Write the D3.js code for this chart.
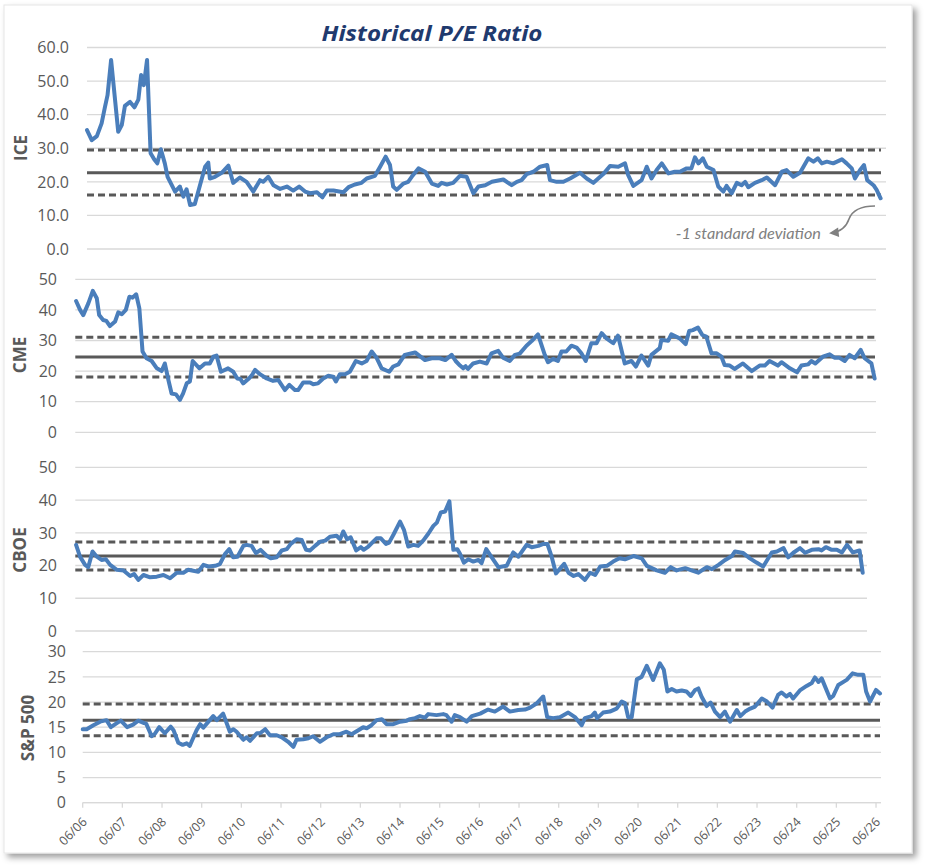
<!DOCTYPE html>
<html>
<head>
<meta charset="utf-8">
<script src="https://cdn.jsdelivr.net/npm/d3@7"></script>
<style>
  body { margin: 0; background: #fff; }
  svg { display: block; }
</style>
</head>
<body>
<div id="chart"></div>
<script>
// x values are years since June 2006 (06/06), y values are P/E ratios

const icePoints = [[0,35.4],[0.12,32.4],[0.25,33.6],[0.37,37.4],[0.45,42.0],[0.52,45.8],[0.61,56.3],[0.79,34.9],[0.88,36.9],[0.96,42.6],[1.09,43.8],[1.2,42.2],[1.3,44.5],[1.37,51.8],[1.44,48.8],[1.52,56.3],[1.61,28.5],[1.7,26.7],[1.78,25.5],[1.87,29.7],[1.97,25.5],[2.04,21.5],[2.23,17.1],[2.35,18.6],[2.44,15.6],[2.52,17.8],[2.61,13.1],[2.73,13.4],[2.86,19.0],[2.99,24.5],[3.07,25.7],[3.11,21.0],[3.24,21.5],[3.41,22.7],[3.58,24.8],[3.7,19.7],[3.87,21.3],[4.04,20.0],[4.21,17.1],[4.38,20.5],[4.46,20.0],[4.59,21.5],[4.72,19.0],[4.89,17.9],[5.06,18.6],[5.22,17.4],[5.37,18.6],[5.52,17.1],[5.65,16.6],[5.82,16.9],[5.96,15.4],[6.07,17.4],[6.24,17.4],[6.49,16.9],[6.62,18.4],[6.78,19.2],[6.95,19.7],[7.08,21.0],[7.29,21.8],[7.42,24.5],[7.56,27.5],[7.67,25.0],[7.75,18.6],[7.84,17.6],[8.01,19.5],[8.13,20.0],[8.22,21.5],[8.39,24.0],[8.56,23.0],[8.73,19.5],[8.89,18.8],[8.98,19.7],[9.11,19.2],[9.27,19.7],[9.44,21.8],[9.61,21.5],[9.78,16.6],[9.91,18.6],[10.08,19.0],[10.25,20.0],[10.54,20.7],[10.75,19.0],[10.88,20.0],[11.0,20.5],[11.13,22.3],[11.3,23.0],[11.47,24.5],[11.65,25.0],[11.72,20.5],[11.89,20.0],[12.06,20.0],[12.23,21.0],[12.48,22.7],[12.65,21.0],[12.82,19.7],[13.07,22.3],[13.24,24.7],[13.45,24.5],[13.62,25.5],[13.7,22.0],[13.83,18.8],[14.04,20.5],[14.17,24.5],[14.29,21.0],[14.42,23.5],[14.55,25.5],[14.72,22.5],[14.88,23.0],[15.01,23.0],[15.18,24.0],[15.3,24.0],[15.39,27.3],[15.48,25.5],[15.59,27.0],[15.69,24.5],[15.86,23.5],[15.98,18.6],[16.11,17.1],[16.19,18.8],[16.32,16.6],[16.45,19.7],[16.57,19.0],[16.66,20.0],[16.74,18.4],[16.91,19.7],[17.08,20.5],[17.21,21.3],[17.42,19.0],[17.59,23.0],[17.71,23.5],[17.88,21.5],[18.05,22.7],[18.26,27.0],[18.39,26.0],[18.5,27.0],[18.6,25.5],[18.73,26.0],[18.89,25.5],[19.11,26.7],[19.23,25.5],[19.36,24.0],[19.44,21.0],[19.57,23.5],[19.67,25.0],[19.75,20.5],[19.91,19.0],[19.99,17.6],[20.09,15.1]];

const cmePoints = [[0.02,42.9],[0.12,40.0],[0.2,38.3],[0.33,42.2],[0.44,46.2],[0.54,43.8],[0.6,38.3],[0.7,36.7],[0.78,36.4],[0.87,34.7],[1.0,36.2],[1.08,39.2],[1.17,38.6],[1.27,40.0],[1.36,44.3],[1.44,44.0],[1.53,45.1],[1.61,40.5],[1.69,26.4],[1.79,24.2],[1.92,23.3],[2.05,20.9],[2.17,20.0],[2.25,22.5],[2.34,17.1],[2.42,12.7],[2.53,12.4],[2.63,10.6],[2.71,12.7],[2.8,16.0],[2.88,16.6],[2.95,23.3],[3.12,20.9],[3.26,22.5],[3.38,22.5],[3.47,24.7],[3.55,25.1],[3.66,19.8],[3.84,20.9],[3.97,19.8],[4.07,17.6],[4.15,17.4],[4.22,16.0],[4.35,17.4],[4.43,18.5],[4.52,20.4],[4.64,19.0],[4.81,17.6],[4.97,16.8],[5.1,17.1],[5.27,13.8],[5.38,15.5],[5.52,13.8],[5.6,13.8],[5.73,16.3],[5.9,16.3],[5.98,15.7],[6.1,16.0],[6.23,17.6],[6.36,18.5],[6.48,18.2],[6.55,16.6],[6.65,19.0],[6.78,19.0],[6.9,19.8],[7.05,23.3],[7.2,22.5],[7.32,23.3],[7.45,26.4],[7.57,24.4],[7.7,20.9],[7.89,19.8],[7.99,21.5],[8.12,22.2],[8.28,25.3],[8.54,26.1],[8.79,23.6],[8.96,24.2],[9.16,24.2],[9.3,23.6],[9.46,25.3],[9.56,23.3],[9.67,21.8],[9.75,20.9],[9.81,21.6],[9.87,20.7],[10.0,22.5],[10.17,23.1],[10.34,22.5],[10.46,25.8],[10.63,26.6],[10.75,24.4],[10.92,23.3],[11.05,25.3],[11.17,25.7],[11.34,28.3],[11.47,29.8],[11.63,32.0],[11.8,25.3],[11.88,22.9],[12.01,24.0],[12.13,23.3],[12.22,26.4],[12.34,26.4],[12.47,28.3],[12.6,27.7],[12.72,25.8],[12.83,23.3],[12.97,29.1],[13.1,29.1],[13.23,32.4],[13.35,30.7],[13.52,29.1],[13.64,31.6],[13.81,22.5],[13.98,23.3],[14.09,21.5],[14.23,25.1],[14.4,21.8],[14.48,25.3],[14.69,27.5],[14.73,30.2],[14.9,29.9],[14.98,32.0],[15.19,30.7],[15.34,28.8],[15.43,33.1],[15.52,33.4],[15.65,34.2],[15.76,31.8],[15.86,31.3],[15.99,25.8],[16.12,25.8],[16.24,24.7],[16.32,22.0],[16.45,21.8],[16.57,20.7],[16.78,22.5],[17.0,20.0],[17.2,21.8],[17.33,21.8],[17.45,23.3],[17.66,21.8],[17.75,22.9],[17.96,20.9],[18.14,19.6],[18.25,21.8],[18.42,22.2],[18.5,23.3],[18.6,22.5],[18.79,24.7],[18.96,25.5],[19.08,24.4],[19.2,24.4],[19.34,23.3],[19.46,25.3],[19.59,24.2],[19.74,26.9],[19.84,24.2],[20.01,22.5],[20.09,17.6]];

const cboePoints = [[0.02,26.3],[0.12,22.7],[0.25,20.2],[0.33,19.5],[0.44,24.3],[0.55,22.7],[0.67,21.7],[0.78,21.9],[0.89,20.2],[1.06,18.7],[1.23,18.5],[1.4,16.8],[1.5,17.4],[1.61,15.6],[1.74,17.1],[1.91,16.4],[2.08,16.6],[2.25,17.1],[2.42,16.1],[2.59,17.8],[2.76,17.8],[2.88,18.7],[3.14,18.1],[3.27,20.2],[3.4,19.7],[3.57,19.9],[3.69,20.4],[3.82,23.5],[3.93,25.0],[4.03,22.5],[4.14,22.7],[4.29,26.0],[4.37,26.3],[4.5,26.0],[4.61,23.8],[4.73,24.8],[4.89,22.9],[4.99,22.2],[5.14,22.5],[5.27,24.6],[5.4,25.0],[5.5,26.6],[5.65,28.0],[5.78,27.8],[5.89,24.8],[5.99,24.6],[6.12,26.0],[6.25,27.3],[6.38,27.6],[6.5,28.8],[6.67,29.1],[6.76,28.0],[6.84,30.4],[6.94,28.0],[7.03,28.6],[7.17,24.6],[7.29,25.6],[7.36,24.8],[7.48,25.8],[7.69,28.3],[7.8,28.3],[7.93,26.6],[8.01,27.0],[8.12,29.4],[8.29,33.4],[8.39,30.9],[8.5,25.8],[8.63,26.3],[8.75,26.0],[8.88,27.6],[9.01,29.7],[9.14,32.1],[9.23,33.1],[9.33,36.2],[9.44,36.5],[9.55,39.6],[9.65,24.8],[9.75,25.0],[9.82,23.6],[9.92,20.9],[10.03,21.9],[10.16,21.2],[10.29,21.7],[10.37,20.7],[10.49,25.0],[10.63,22.5],[10.8,19.5],[11.01,19.9],[11.18,24.0],[11.31,22.7],[11.52,26.3],[11.65,25.6],[11.82,26.0],[11.95,26.6],[12.05,26.6],[12.16,22.7],[12.27,17.6],[12.48,20.5],[12.59,17.8],[12.72,16.8],[12.84,17.4],[13.01,15.6],[13.14,17.8],[13.27,17.1],[13.4,19.7],[13.57,19.9],[13.73,21.2],[13.89,22.2],[14.03,21.9],[14.25,22.9],[14.46,22.2],[14.59,19.9],[14.84,18.5],[15.05,17.8],[15.2,19.5],[15.35,18.5],[15.57,19.2],[15.73,18.5],[15.9,17.8],[16.12,19.5],[16.25,18.9],[16.42,20.2],[16.59,21.7],[16.76,22.9],[16.84,24.3],[17.05,23.8],[17.22,22.2],[17.39,20.9],[17.56,19.7],[17.78,24.0],[17.91,24.3],[18.08,25.3],[18.2,22.5],[18.33,23.9],[18.5,25.3],[18.63,23.9],[18.8,24.8],[18.97,25.0],[19.05,24.6],[19.16,25.6],[19.31,24.8],[19.44,24.8],[19.57,24.0],[19.7,26.3],[19.85,24.0],[20.02,24.6],[20.1,17.8]];

const spPoints = [[0,14.6],[0.1,14.6],[0.27,15.4],[0.44,16.1],[0.6,16.4],[0.71,15.0],[0.86,15.8],[0.96,16.3],[1.12,15.0],[1.27,15.5],[1.4,16.3],[1.55,15.8],[1.6,15.7],[1.74,13.2],[1.82,13.7],[1.93,15.0],[2.07,13.8],[2.22,15.1],[2.29,14.4],[2.41,11.9],[2.52,11.5],[2.62,11.8],[2.7,11.3],[2.87,14.4],[2.96,15.6],[3.04,14.9],[3.17,16.1],[3.29,17.2],[3.38,16.4],[3.54,17.7],[3.71,14.1],[3.8,14.6],[3.88,14.1],[4.05,12.5],[4.13,13.0],[4.22,12.3],[4.39,13.8],[4.47,13.8],[4.6,14.6],[4.72,13.4],[4.89,13.4],[5.02,13.0],[5.18,12.1],[5.31,11.1],[5.39,12.5],[5.56,12.6],[5.69,12.8],[5.81,13.2],[5.98,12.1],[6.15,13.0],[6.32,13.6],[6.48,13.6],[6.65,14.1],[6.78,13.6],[6.99,14.6],[7.07,15.0],[7.16,14.8],[7.28,15.4],[7.41,16.4],[7.54,16.6],[7.66,15.6],[7.83,15.6],[8.0,16.1],[8.17,16.3],[8.25,16.6],[8.38,16.8],[8.5,17.2],[8.63,16.9],[8.71,17.6],[8.92,17.4],[9.09,17.6],[9.17,17.4],[9.3,16.1],[9.38,17.4],[9.51,17.0],[9.68,16.1],[9.81,17.2],[10.02,17.7],[10.22,18.5],[10.39,18.1],[10.6,19.1],[10.77,18.1],[10.98,18.4],[11.15,18.5],[11.28,18.9],[11.44,19.7],[11.61,21.1],[11.71,17.0],[11.86,16.8],[12.03,17.0],[12.24,17.9],[12.41,17.0],[12.58,15.4],[12.66,16.8],[12.83,17.2],[12.91,17.9],[12.97,16.8],[13.12,17.9],[13.29,18.1],[13.46,18.7],[13.59,20.1],[13.67,19.8],[13.75,17.0],[13.84,17.0],[13.97,24.5],[14.09,25.0],[14.22,27.2],[14.38,24.4],[14.55,27.7],[14.65,26.4],[14.74,22.1],[14.85,22.6],[14.97,22.1],[15.1,22.3],[15.22,22.1],[15.33,21.2],[15.44,22.4],[15.52,22.7],[15.6,21.1],[15.73,19.2],[15.83,19.9],[15.94,18.1],[16.07,17.0],[16.19,18.1],[16.32,16.1],[16.49,18.4],[16.58,17.2],[16.7,18.1],[16.83,18.7],[16.95,19.1],[17.12,20.7],[17.25,20.1],[17.39,18.9],[17.53,21.4],[17.62,21.9],[17.74,21.1],[17.83,21.6],[17.91,20.7],[18.08,22.3],[18.25,23.2],[18.38,23.8],[18.46,24.9],[18.55,24.0],[18.63,24.7],[18.84,20.7],[18.92,21.2],[19.05,23.4],[19.26,24.4],[19.41,25.7],[19.55,25.4],[19.68,25.4],[19.75,22.1],[19.85,20.1],[20.0,22.4],[20.1,21.7]];

// [-1 sd, mean, +1 sd]
const iceBands = [16.1, 22.7, 29.5];
const cmeBands = [18.1, 24.6, 31.1];
const cboeBands = [18.6, 22.9, 27.2];
const spBands = [13.3, 16.4, 19.6];

const iceTicks = [0, 10, 20, 30, 40, 50, 60];
const cmeTicks = [0, 10, 20, 30, 40, 50];
const cboeTicks = [0, 10, 20, 30, 40, 50];
const spTicks = [0, 5, 10, 15, 20, 25, 30];

const xTickLabels = ["06/06", "06/07", "06/08", "06/09", "06/10", "06/11", "06/12", "06/13", "06/14", "06/15",
  "06/16", "06/17", "06/18", "06/19", "06/20", "06/21", "06/22", "06/23", "06/24", "06/25", "06/26"];

const tEnd = 20.1;
const W = 925, H = 866;

const blue = "#4a7ebb";
const dark = "#595959";
const grid = "#d9d9d9";

const panels = [
  { name: "ICE", points: icePoints, bands: iceBands, ticks: iceTicks, fmt: d3.format(".1f"),
    x0: 87, x1: 881, gridEnd: 886, yTop: 47.5, yBottom: 249, labelX: 69, titleX: 21, titleY: 148 },
  { name: "CME", points: cmePoints, bands: cmeBands, ticks: cmeTicks, fmt: d3.format("d"),
    x0: 75.3, x1: 875, gridEnd: 876, yTop: 279.3, yBottom: 432.3, labelX: 57, titleX: 20, titleY: 355 },
  { name: "CBOE", points: cboePoints, bands: cboeBands, ticks: cboeTicks, fmt: d3.format("d"),
    x0: 75.3, x1: 862.7, gridEnd: 867, yTop: 467.3, yBottom: 631, labelX: 57, titleX: 20, titleY: 550 },
  { name: "S&P 500", points: spPoints, bands: spBands, ticks: spTicks, fmt: d3.format("d"),
    x0: 82.7, x1: 880, gridEnd: 881, yTop: 651.7, yBottom: 802.7, labelX: 66, titleX: 28, titleY: 728 }
];

const svg = d3.select("#chart").append("svg")
    .attr("width", W)
    .attr("height", H);

// frame with soft shadow
const defs = svg.append("defs");
const shadow = defs.append("filter")
    .attr("id", "shadow")
    .attr("x", "-5%").attr("y", "-5%")
    .attr("width", "110%").attr("height", "110%");
shadow.append("feDropShadow")
    .attr("dx", 4).attr("dy", 4)
    .attr("stdDeviation", 3)
    .attr("flood-color", "#000")
    .attr("flood-opacity", 0.38);

defs.append("marker")
    .attr("id", "arrow")
    .attr("viewBox", "0 0 10 10")
    .attr("refX", 8).attr("refY", 5)
    .attr("markerWidth", 7).attr("markerHeight", 6)
    .attr("orient", "auto")
  .append("path")
    .attr("d", "M0,0 L10,5 L0,10 Z")
    .attr("fill", "#808080");

svg.append("rect")
    .attr("x", 4).attr("y", 5)
    .attr("width", 908).attr("height", 848)
    .attr("fill", "#fff")
    .attr("stroke", "#e6e6e6")
    .attr("filter", "url(#shadow)");

// title
svg.append("text")
    .attr("x", 432)
    .attr("y", 41)
    .attr("text-anchor", "middle")
    .attr("font-family", "'Open Sans', sans-serif")
    .attr("font-weight", "bold")
    .attr("font-style", "italic")
    .attr("font-size", 21.5)
    .attr("fill", "#1f3a6e")
    .attr("textLength", 221)
    .attr("lengthAdjust", "spacingAndGlyphs")
    .text("Historical P/E Ratio");

let spX;

panels.forEach(p => {
    const x = d3.scaleLinear().domain([0, tEnd]).range([p.x0, p.x1]);
    const y = d3.scaleLinear().domain([0, d3.max(p.ticks)]).range([p.yBottom, p.yTop]);
    if (p.name === "S&P 500") spX = x;

    const g = svg.append("g");

    // horizontal gridlines
    g.selectAll(".grid")
        .data(p.ticks)
      .enter().append("line")
        .attr("x1", p.x0)
        .attr("x2", p.gridEnd)
        .attr("y1", d => y(d))
        .attr("y2", d => y(d))
        .attr("stroke", grid)
        .attr("stroke-width", 1.3);

    // y tick labels
    g.selectAll(".ylab")
        .data(p.ticks)
      .enter().append("text")
        .attr("x", p.labelX)
        .attr("y", d => y(d))
        .attr("dy", "0.36em")
        .attr("text-anchor", "end")
        .attr("font-family", "'Open Sans', sans-serif")
        .attr("font-size", 16)
        .attr("fill", dark)
        .text(d => p.fmt(d));

    // axis title
    g.append("text")
        .attr("transform", "translate(" + p.titleX + "," + p.titleY + ") rotate(-90)")
        .attr("text-anchor", "middle")
        .attr("dy", "0.36em")
        .attr("font-family", "'Open Sans', sans-serif")
        .attr("font-weight", "bold")
        .attr("font-size", 17)
        .attr("fill", dark)
        .text(p.name);

    // +/- 1 sd dashed, mean solid
    g.selectAll(".band")
        .data(p.bands)
      .enter().append("line")
        .attr("x1", x(0))
        .attr("x2", x(tEnd))
        .attr("y1", d => y(d))
        .attr("y2", d => y(d))
        .attr("stroke", dark)
        .attr("stroke-width", 3)
        .attr("stroke-dasharray", (d, i) => i === 1 ? null : "7,4");

    const line = d3.line()
        .x(d => x(d[0]))
        .y(d => y(d[1]));

    g.append("path")
        .datum(p.points)
        .attr("fill", "none")
        .attr("stroke", blue)
        .attr("stroke-width", 4)
        .attr("stroke-linejoin", "round")
        .attr("stroke-linecap", "round")
        .attr("d", line);
});

// x axis under the S&P panel
const axisY = panels[3].yBottom;
const xAxis = svg.append("g");
xAxis.append("line")
    .attr("x1", panels[3].x0)
    .attr("x2", panels[3].gridEnd)
    .attr("y1", axisY)
    .attr("y2", axisY)
    .attr("stroke", grid)
    .attr("stroke-width", 1.3);

xAxis.selectAll(".xtick")
    .data(xTickLabels)
  .enter().append("line")
    .attr("x1", (d, i) => spX(i))
    .attr("x2", (d, i) => spX(i))
    .attr("y1", axisY)
    .attr("y2", axisY + 5)
    .attr("stroke", grid)
    .attr("stroke-width", 1.3);

xAxis.selectAll(".xlab")
    .data(xTickLabels)
  .enter().append("text")
    .attr("transform", (d, i) => "translate(" + (spX(i) + 5) + "," + (axisY + 20) + ") rotate(-45)")
    .attr("text-anchor", "end")
    .attr("font-family", "'Open Sans', sans-serif")
    .attr("font-size", 12.5)
    .attr("fill", dark)
    .text(d => d);

// annotation for the lower band
svg.append("text")
    .attr("x", 821)
    .attr("y", 239)
    .attr("text-anchor", "end")
    .attr("font-family", "Lato, sans-serif")
    .attr("font-style", "italic")
    .attr("font-size", 16.3)
    .attr("fill", "#808080")
    .text("-1 standard deviation");

svg.append("path")
    .attr("d", "M875,206 C860,206 852,211 849,219 C846,228 840,232 831,233")
    .attr("fill", "none")
    .attr("stroke", "#808080")
    .attr("stroke-width", 1.6)
    .attr("marker-end", "url(#arrow)");
</script>
</body>
</html>
